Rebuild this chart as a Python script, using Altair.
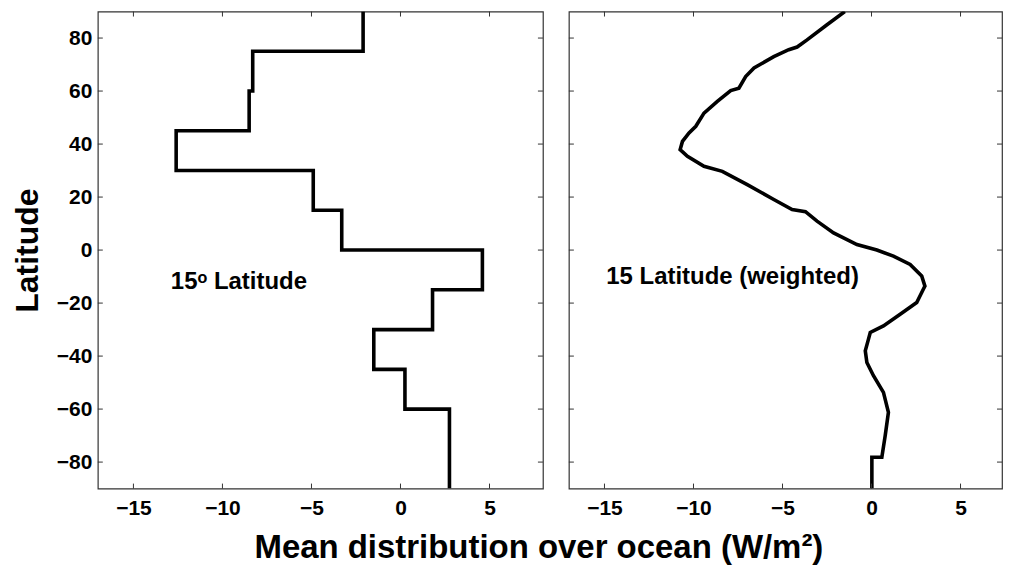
import altair as alt
import pandas as pd

# ---- data ----
# 15-degree latitude bands (edges, north to south) and band means
lat_edges = [90, 75, 60, 45, 30, 15, 0, -15, -30, -45, -60, -90]
band_values = [-2.1, -8.3, -8.5, -12.6, -4.9, -3.3, 4.6, 1.8, -1.5, 0.25, 2.75]

# weighted (smooth) profile
weighted_lat = [90, 85, 79.3, 76.6, 75.6, 73, 68.7, 65.5, 61.1, 60.2, 56.1, 51.7,
                46.7, 44.2, 41, 37.9, 35.4, 31.6, 29.7, 24.7, 19.1, 15.3, 14.5,
                10.9, 6.5, 2.1, 0, -2.3, -5.4, -9.8, -13.6, -14.8, -19.8, -24.2,
                -28.6, -31.1, -33.6, -38.0, -42.4, -47.4, -53.7, -61.2, -70.0,
                -78.2, -78.2, -90]
weighted_val = [-1.5, -2.5, -3.62, -4.18, -4.65, -5.49, -6.6, -7.07, -7.45, -7.91,
                -8.66, -9.41, -9.87, -10.25, -10.62, -10.75, -10.34, -9.41, -8.38,
                -6.98, -5.49, -4.46, -3.71, -3.06, -2.13, -0.82, 0.3, 1.23, 2.17,
                2.82, 3.0, 2.91, 2.54, 1.61, 0.67, -0.07, -0.17, -0.35, -0.26, 0.11,
                0.67, 0.95, 0.77, 0.58, 0.02, 0.02]

y_ticks = [-80, -60, -40, -20, 0, 20, 40, 60, 80]
x_ticks = [-15, -10, -5, 0, 5]

left_label = "15ᵒ Latitude"
right_label = "15 Latitude (weighted)"
x_title = "Mean distribution over ocean (W/m²)"
y_title = "Latitude"

# ---- build tables ----
step_rows = []
for i, v in enumerate(band_values):
    step_rows.append({"order": 2 * i, "lat": lat_edges[i], "val": v})
    step_rows.append({"order": 2 * i + 1, "lat": lat_edges[i + 1], "val": v})
step_df = pd.DataFrame(step_rows)

weighted_df = pd.DataFrame({"order": list(range(len(weighted_lat))),
                            "lat": weighted_lat, "val": weighted_val})

FONT = "Liberation Sans"
H = 478
TICK = 5


def panel(df, label, lx, ly, width, xmax, show_y):
    xs = alt.Scale(domain=[-17, xmax], nice=False, zero=False)
    ys = alt.Scale(domain=[-90, 90], nice=False, zero=False)
    x_axis = alt.Axis(values=x_ticks, title=None, domain=False, ticks=False,
                      grid=False, labelFont=FONT, labelFontSize=21,
                      labelFontWeight="bold", labelPadding=9, labelColor="black")
    if show_y:
        y_axis = alt.Axis(values=y_ticks, title=y_title, domain=False, ticks=False,
                          grid=False, labelFont=FONT, labelFontSize=21,
                          labelFontWeight="bold", labelPadding=6,
                          labelColor="black", titleFont=FONT, titleFontSize=32,
                          titleFontWeight="bold", titleColor="black",
                          titlePadding=12)
    else:
        y_axis = None

    def X(f):
        return alt.X(f, scale=xs, axis=x_axis, title=None)

    def Y(f):
        if show_y:
            return alt.Y(f, scale=ys, axis=y_axis, title=y_title)
        return alt.Y(f, scale=ys, axis=None)

    line = alt.Chart(df).mark_line(color="black", strokeWidth=3.6,
                                   strokeJoin="miter", clip=True).encode(
        x=X("val:Q"), y=Y("lat:Q"), order="order:Q",
    )

    ydf = pd.DataFrame({"t": y_ticks})
    xdf = pd.DataFrame({"t": x_ticks})
    yl = alt.Chart(ydf).mark_rule(color="#333", strokeWidth=1).encode(
        y=Y("t:Q"), x=alt.value(0), x2=alt.value(TICK))
    yr = alt.Chart(ydf).mark_rule(color="#333", strokeWidth=1).encode(
        y=Y("t:Q"), x=alt.value(width - TICK), x2=alt.value(width))
    xb = alt.Chart(xdf).mark_rule(color="#333", strokeWidth=1).encode(
        x=X("t:Q"), y=alt.value(H - TICK), y2=alt.value(H))
    xt = alt.Chart(xdf).mark_rule(color="#333", strokeWidth=1).encode(
        x=X("t:Q"), y=alt.value(0), y2=alt.value(TICK))

    tdf = pd.DataFrame({"x": [lx], "y": [ly], "t": [label]})
    txt = alt.Chart(tdf).mark_text(align="left", baseline="middle", font=FONT,
                                   fontSize=24, fontWeight="bold",
                                   color="black").encode(
        x=X("x:Q"), y=Y("y:Q"), text="t:N")

    return alt.layer(line, yl, yr, xb, xt, txt).properties(width=width, height=H)


left = panel(step_df, left_label, -12.9, -12.2, 446, 8, True)
right = panel(weighted_df, right_label, -14.9, -10.3, 434, 7.33, False)

chart = alt.hconcat(left, right, spacing=22).properties(
    title=alt.TitleParams(x_title, orient="bottom", anchor="middle", font=FONT,
                          fontSize=33, fontWeight="bold", color="black", offset=13,
                          dx=32),
    padding={"left": 2, "top": 1, "right": 0, "bottom": 0},
).configure_view(stroke="#333", strokeWidth=1.2)

chart.save("out.html", embed_options={"renderer": "svg", "actions": False})
